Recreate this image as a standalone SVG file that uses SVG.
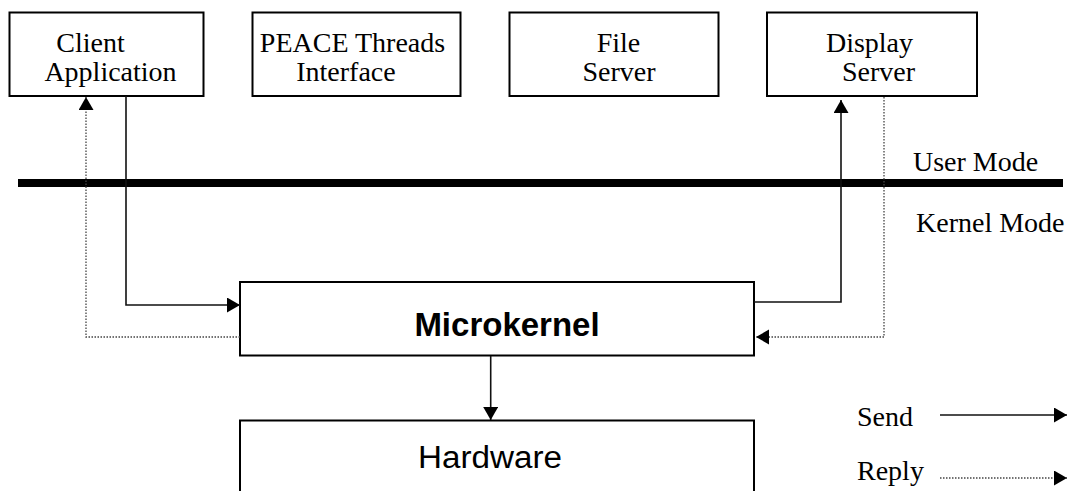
<svg xmlns="http://www.w3.org/2000/svg" width="1071" height="491" viewBox="0 0 1071 491">
<style>
.box{fill:#fff;stroke:#000;stroke-width:2}
.serif{font-family:"Liberation Serif","Times New Roman",serif;font-size:28px;fill:#000}
.sans{font-family:"Liberation Sans",Arial,sans-serif;fill:#000}
.send{fill:none;stroke:#111;stroke-width:1.6}
.reply{fill:none;stroke:#444;stroke-width:1.3;stroke-dasharray:1.5 1.5}
</style>
<defs>
<marker id="ah" markerUnits="userSpaceOnUse" markerWidth="16" markerHeight="16" refX="13" refY="7.5" orient="auto">
<path d="M0,0 L13,7.5 L0,15 z" fill="#000"/>
</marker>
</defs>
<rect x="0" y="0" width="1071" height="491" fill="#fff"/>
<g id="client">
<rect class="box" x="9.5" y="12.5" width="194" height="83.5"/>
<text class="serif" x="90.5" y="52" text-anchor="middle">Client</text>
<text class="serif" x="110.5" y="81" text-anchor="middle">Application</text>
</g>
<g id="peace">
<rect class="box" x="252.5" y="12.5" width="208" height="83.5"/>
<text class="serif" x="352.5" y="52" text-anchor="middle">PEACE Threads</text>
<text class="serif" x="346" y="81" text-anchor="middle">Interface</text>
</g>
<g id="fileserver">
<rect class="box" x="509.5" y="12.5" width="209" height="83.5"/>
<text class="serif" x="618.5" y="52" text-anchor="middle">File</text>
<text class="serif" x="619" y="81" text-anchor="middle">Server</text>
</g>
<g id="displayserver">
<rect class="box" x="767" y="12.5" width="210" height="83.5"/>
<text class="serif" x="869.5" y="52" text-anchor="middle">Display</text>
<text class="serif" x="878.5" y="81" text-anchor="middle">Server</text>
</g>
<g id="modeline">
<rect x="18" y="179" width="1045" height="8" fill="#000"/>
<text class="serif" x="913" y="171">User Mode</text>
<text class="serif" x="916" y="232">Kernel Mode</text>
</g>
<g id="microkernel">
<rect class="box" x="240" y="282" width="514" height="73.5"/>
<text class="sans" x="507" y="336" text-anchor="middle" font-size="33" font-weight="bold">Microkernel</text>
</g>
<g id="hardware">
<rect class="box" x="240" y="420.5" width="514" height="100"/>
<text class="sans" x="490" y="468" text-anchor="middle" font-size="31" textLength="144" lengthAdjust="spacingAndGlyphs">Hardware</text>
</g>
<g id="connectors">
<path class="send" d="M126,96 V305 H240" marker-end="url(#ah)"/>
<path class="reply" d="M240,337 H86 V97" marker-end="url(#ah)"/>
<path class="send" d="M754,302 H841 V100" marker-end="url(#ah)"/>
<path class="reply" d="M884,97 V337 H756" marker-end="url(#ah)"/>
<path class="send" d="M490.7,356 V420" marker-end="url(#ah)"/>
</g>
<g id="legend">
<text class="serif" x="857" y="426">Send</text>
<text class="serif" x="857" y="480">Reply</text>
<path class="send" d="M940,415 H1067" marker-end="url(#ah)"/>
<path class="reply" d="M940,478 H1067" marker-end="url(#ah)"/>
</g>
</svg>
